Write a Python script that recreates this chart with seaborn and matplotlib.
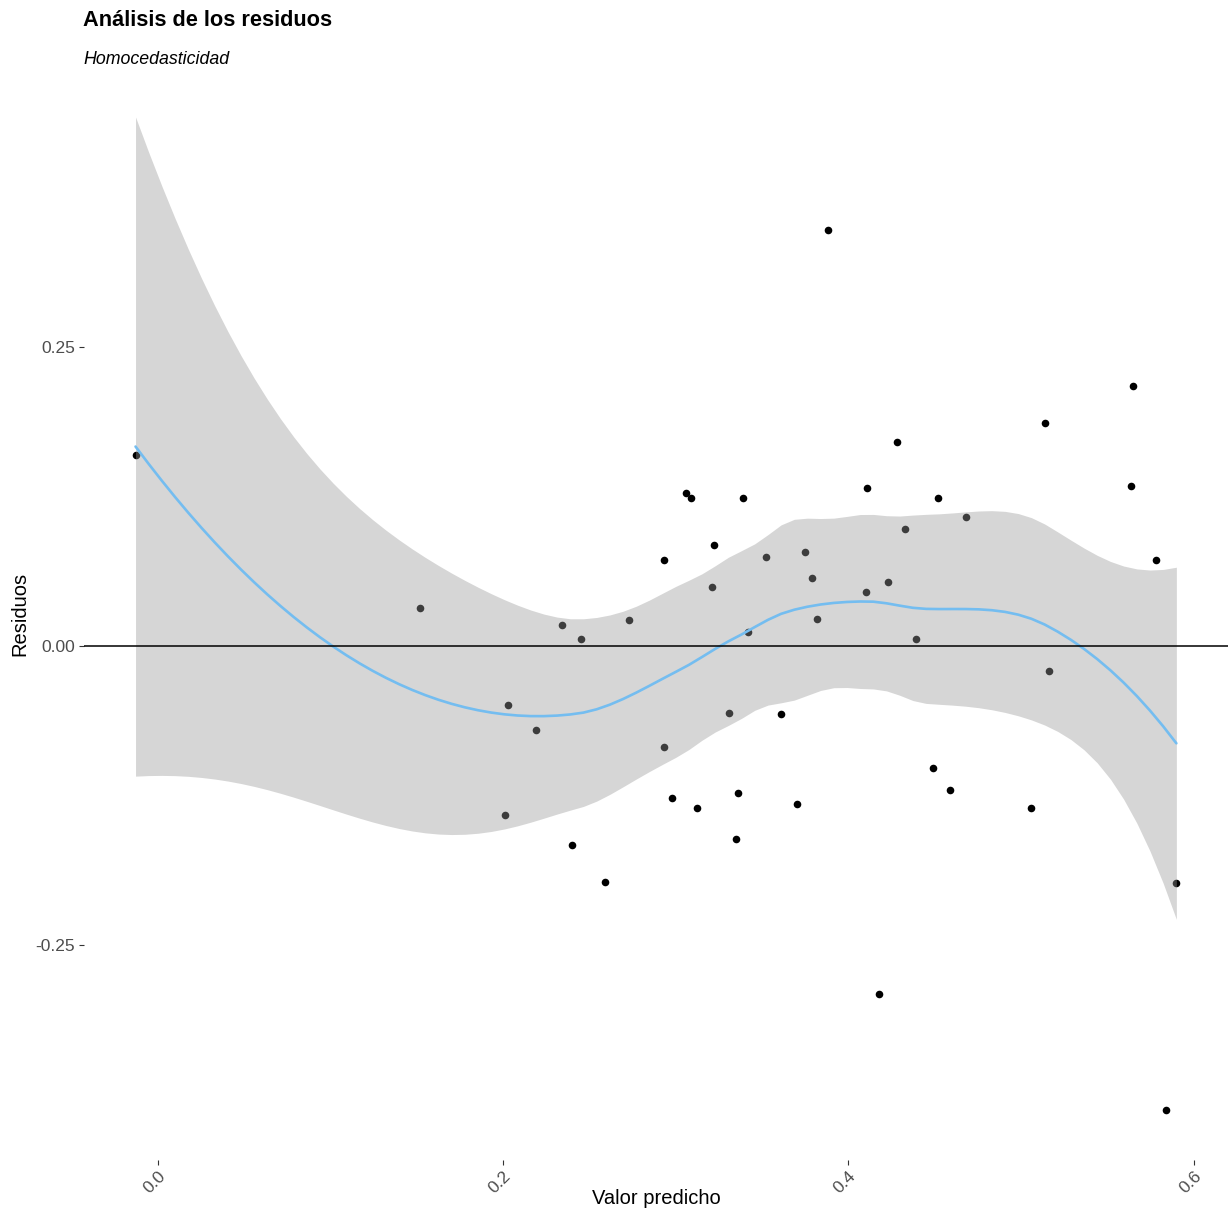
import numpy as np
import pandas as pd
import matplotlib
matplotlib.use("Agg")
import matplotlib.pyplot as plt
import seaborn as sns

# ---------------- data ----------------
predicted = [-0.013, 0.152, 0.201, 0.203, 0.219, 0.234, 0.240, 0.245, 0.259, 0.273,
             0.293, 0.293, 0.298, 0.306, 0.309, 0.312, 0.321, 0.322, 0.331, 0.335,
             0.336, 0.339, 0.342, 0.352, 0.361, 0.370, 0.375, 0.379, 0.382, 0.388,
             0.410, 0.411, 0.418, 0.423, 0.428, 0.433, 0.439, 0.449, 0.452, 0.459,
             0.468, 0.506, 0.514, 0.516, 0.564, 0.565, 0.578, 0.584, 0.590]
residuals = [0.160, 0.032, -0.141, -0.049, -0.070, 0.018, -0.166, 0.006, -0.197, 0.022,
             0.072, -0.084, -0.127, 0.128, 0.124, -0.135, 0.050, 0.085, -0.056, -0.161,
             -0.123, 0.124, 0.012, 0.075, -0.057, -0.132, 0.079, 0.057, 0.023, 0.348,
             0.045, 0.132, -0.291, 0.054, 0.171, 0.098, 0.006, -0.102, 0.124, -0.120,
             0.108, -0.135, 0.187, -0.021, 0.134, 0.218, 0.072, -0.388, -0.198]

x_ticks = [0.0, 0.2, 0.4, 0.6]
x_ticklabels = ["0.0", "0.2", "0.4", "0.6"]
y_ticks = [-0.25, 0.0, 0.25]
y_ticklabels = ["-0.25", "0.00", "0.25"]

title = "Análisis de los residuos"
subtitle = "Homocedasticidad"
xlabel = "Valor predicho"
ylabel = "Residuos"

df = pd.DataFrame({"pred": predicted, "res": residuals})


# ---------------- loess (degree 2, span 0.75, interpolated surface) as in ggplot ----------------
def local_rows(x, x0, span=0.75):
    """Operator rows giving the local quadratic's value and slope at x0."""
    n = len(x)
    q = int(np.floor(n * span))
    d = np.abs(x - x0)
    h = np.sort(d)[q - 1]
    w = np.clip(1 - (d / h) ** 3, 0, None) ** 3
    X = np.column_stack([np.ones(n), x - x0, (x - x0) ** 2])
    A = X.T @ (w[:, None] * X)
    sol = np.linalg.solve(A, (X * w[:, None]).T)
    return sol[0], sol[1]


def kd_vertices(xs, fc):
    xs = np.sort(xs)
    mu = 0.005 * (xs[-1] - xs[0])
    verts = {xs[0] - mu, xs[-1] + mu}

    def split(lo, hi):  # 0-based inclusive
        if hi - lo + 1 <= fc:
            return
        m = (lo + hi) // 2
        verts.add(0.5 * (xs[m] + xs[m + 1]))
        split(lo, m)
        split(m + 1, hi)

    split(0, len(xs) - 1)
    return np.array(sorted(verts))


def interp_rows(x, x0s, span=0.75, cell=0.2):
    n = len(x)
    fc = int(np.floor(n * span * cell))
    v = kd_vertices(x, fc)
    vals, slopes = zip(*[local_rows(x, vv, span) for vv in v])
    vals, slopes = np.array(vals), np.array(slopes)
    rows = []
    for x0 in x0s:
        i = min(max(np.searchsorted(v, x0) - 1, 0), len(v) - 2)
        hgt = v[i + 1] - v[i]
        t = (x0 - v[i]) / hgt
        h00 = 2 * t ** 3 - 3 * t ** 2 + 1
        h10 = t ** 3 - 2 * t ** 2 + t
        h01 = -2 * t ** 3 + 3 * t ** 2
        h11 = t ** 3 - t ** 2
        rows.append(h00 * vals[i] + h10 * hgt * slopes[i] + h01 * vals[i + 1] + h11 * hgt * slopes[i + 1])
    return np.array(rows)


def t_quantile_975(dof):
    z = 1.959963984540054
    g1 = (z ** 3 + z) / 4
    g2 = (5 * z ** 5 + 16 * z ** 3 + 3 * z) / 96
    g3 = (3 * z ** 7 + 19 * z ** 5 + 17 * z ** 3 - 15 * z) / 384
    return z + g1 / dof + g2 / dof ** 2 + g3 / dof ** 3


xv = df["pred"].to_numpy()
yv = df["res"].to_numpy()
L = interp_rows(xv, xv)
I = np.eye(len(xv))
M = (I - L).T @ (I - L)
delta1 = np.trace(M)
delta2 = np.trace(M @ M)
s = np.sqrt(np.sum(((I - L) @ yv) ** 2) / delta1)
dof = delta1 ** 2 / delta2

xg = np.linspace(xv.min(), xv.max(), 80)
Lg = interp_rows(xv, xg)
fit = Lg @ yv
se = s * np.sqrt(np.sum(Lg ** 2, axis=1))
tq = t_quantile_975(dof)
smooth = pd.DataFrame({"x": xg, "fit": fit, "lo": fit - tq * se, "hi": fit + tq * se})

# ---------------- plot ----------------
sns.set_theme(style="white")
plt.rcParams["font.family"] = ["Liberation Sans", "DejaVu Sans"]

fig = plt.figure(figsize=(12.32, 12.09), dpi=100)
ax = fig.add_axes([83.5 / 1232, 1 - 1160 / 1209, (1228.4 - 83.5) / 1232, (1160 - 67.3) / 1209])

sns.scatterplot(data=df, x="pred", y="res", ax=ax, color="black", s=30,
                linewidth=0, zorder=2, legend=False)
ax.fill_between(smooth["x"], smooth["lo"], smooth["hi"], color="#999999",
                alpha=0.4, linewidth=0, zorder=3)
sns.lineplot(data=smooth, x="x", y="fit", ax=ax, color="#74BDF0", linewidth=1.9,
             zorder=4, legend=False)
ax.axhline(0, color="black", linewidth=1.1, zorder=5)

# ggplot-like 5% expansion of the data ranges
xmin, xmax = xv.min(), xv.max()
ymin = min(yv.min(), smooth["lo"].min())
ymax = max(yv.max(), smooth["hi"].max())
xr, yr = xmax - xmin, ymax - ymin
ax.set_xlim(xmin - 0.05 * xr, xmax + 0.05 * xr)
ax.set_ylim(ymin - 0.05 * yr, ymax + 0.05 * yr)

for sp in ax.spines.values():
    sp.set_visible(False)
ax.grid(False)

ax.set_xticks(x_ticks)
ax.set_xticklabels(x_ticklabels, rotation=45, ha="right", va="top", rotation_mode="anchor")
ax.set_yticks(y_ticks)
ax.set_yticklabels(y_ticklabels)
ax.tick_params(axis="both", which="major", length=3.5, width=0.8, color="#333333",
               labelcolor="#4D4D4D", labelsize=12.5, pad=2.5, bottom=True, left=True)

ax.set_xlabel(xlabel, fontsize=14.5, color="black")
ax.set_ylabel(ylabel, fontsize=14.5, color="black")
ax_h = (1160 - 67.3)
ax_w = (1228.4 - 83.5)
ax.xaxis.set_label_coords(0.5, -(1198 - 1160) / ax_h)
ax.xaxis.label.set_va("center")
ax.yaxis.set_label_coords(-(83.5 - 20) / ax_w, 0.5)
ax.yaxis.label.set_va("center")

fig.text(83 / 1232, 1 - 21 / 1209, title, fontsize=15.7, fontweight="bold",
         ha="left", va="center", color="black")
fig.text(83 / 1232, 1 - 59 / 1209, subtitle, fontsize=12.8, fontstyle="italic",
         ha="left", va="center", color="black")

fig.savefig("out.png", dpi=100)
